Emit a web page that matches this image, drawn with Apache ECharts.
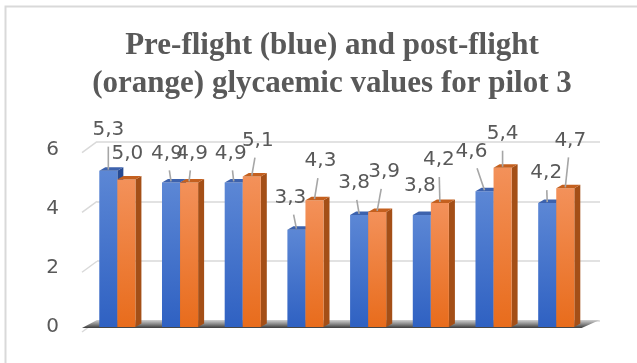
<!DOCTYPE html>
<html>
<head>
<meta charset="utf-8">
<script src="https://cdn.jsdelivr.net/npm/echarts@6/dist/echarts.min.js"></script>
<style>
  html, body { margin: 0; padding: 0; background: #ffffff; }
  #chart { width: 637px; height: 363px; }
</style>
</head>
<body>
<div id="chart"></div>
<script>
// Flights and glycaemic readings (mmol/L)
const flights = ['1', '2', '3', '4', '5', '6', '7', '8'];
const preFlight = [5.3, 4.9, 4.9, 3.3, 3.8, 3.8, 4.6, 4.2];
const postFlight = [5.0, 4.9, 5.1, 4.3, 3.9, 4.2, 5.4, 4.7];
const yTicks = [0, 2, 4, 6];

// Callout placement of each value label relative to its bar top: [dx, dy, leader line]
const preCallouts = [[0, -41, 1], [-4, -29, 1], [-3, -29, 1], [-6, -32, 1], [-5, -32, 1], [-2, -29, 0], [-13, -40, 1], [-1, -30, 1]];
const postCallouts = [[1, -26, 0], [3, -29, 1], [6, -36, 1], [6, -39, 1], [7, -40, 1], [-1, -43, 1], [0, -34, 1], [5, -48, 1]];

const DEPTH_X = 6;
const DEPTH_Y = 3.5;
const TEXT = '#595959';
const GRID_LINE = '#d9d9d9';
const LABEL_SIZE = 20;
const LABEL_FONT = LABEL_SIZE + 'px "DejaVu Sans"';

const blueStyle = { light: '#5c87d5', dark: '#2f61c2', side: '#264a92', cap: '#3d62ad' };
const orangeStyle = { light: '#f3915a', dark: '#e86c1c', side: '#a44f17', cap: '#c4601f' };

function fmt(v) { return v.toFixed(1).replace('.', ','); }

// Draws one 3D column (front, side, cap) plus its value callout.
function columnRenderer(side, colors, callouts) {
  return function (params, api) {
    const idx = api.value(0);
    const v = api.value(1);
    const basePt = api.coord([idx, 0]);
    const topPt = api.coord([idx, v]);
    const band = api.size([1, 0])[0];
    const w = band * 0.288;
    const x0 = side === 0 ? basePt[0] - w : basePt[0];
    const x1 = x0 + w;
    const base = basePt[1];
    const top = topPt[1];
    const cx = x0 + w / 2;
    const co = callouts[params.dataIndex];
    const lx = cx + co[0];
    const ly = top + co[1];

    const children = [
      {
        type: 'polygon',
        shape: { points: [[x1, top], [x1 + DEPTH_X, top - DEPTH_Y], [x1 + DEPTH_X, base - DEPTH_Y], [x1, base]] },
        style: { fill: colors.side }
      },
      {
        type: 'rect',
        shape: { x: x0, y: top, width: w, height: base - top },
        style: {
          fill: {
            type: 'linear', x: 0, y: 0, x2: 0, y2: 1,
            colorStops: [{ offset: 0, color: colors.light }, { offset: 1, color: colors.dark }]
          }
        }
      },
      {
        type: 'polygon',
        shape: { points: [[x0, top], [x1, top], [x1 + DEPTH_X, top - DEPTH_Y], [x0 + DEPTH_X, top - DEPTH_Y]] },
        style: { fill: colors.cap }
      }
    ];

    if (co[2]) {
      const dy = top - ly;
      const t = Math.min(1, 17 / dy);
      children.push({
        type: 'line',
        z2: 15,
        shape: { x1: lx + (cx - lx) * t, y1: ly + dy * t, x2: cx, y2: top - 1 },
        style: { stroke: '#a6a6a6', lineWidth: 1.6 }
      });
    }

    children.push({
      type: 'text',
      z2: 20,
      style: {
        x: lx, y: ly, text: fmt(v), fill: TEXT, font: LABEL_FONT,
        align: 'center', verticalAlign: 'middle'
      }
    });

    return { type: 'group', children: children };
  };
}

// Shaded floor under the columns
function floorRenderer(params, api) {
  const cs = params.coordSys;
  const b = cs.y + cs.height;
  const l = cs.x;
  const r = cs.x + cs.width;
  return {
    type: 'polygon',
    shape: { points: [[l - 4, b + 1], [r - 6, b + 1], [r + 12, b - 7], [l + 11, b - 7]] },
    style: {
      fill: {
        type: 'linear', x: 0, y: 0, x2: 0, y2: 1,
        colorStops: [
          { offset: 0, color: '#d0d0d0' },
          { offset: 0.5, color: '#8a8a8a' },
          { offset: 1, color: '#3c3c3c' }
        ]
      }
    }
  };
}

// Short diagonal connecting the front tick labels to the back-wall gridlines
function diagonalRenderer(params, api) {
  const p = api.coord([0, api.value(1)]);
  return {
    type: 'line',
    shape: { x1: p[0] - 15, y1: p[1] + 11, x2: p[0], y2: p[1] },
    style: { stroke: GRID_LINE, lineWidth: 1.5 }
  };
}

const chart = echarts.init(document.getElementById('chart'), null, { renderer: 'canvas' });

chart.setOption({
  backgroundColor: '#ffffff',
  animation: false,
  title: {
    text: 'Pre-flight (blue) and post-flight\n(orange) glycaemic values for pilot 3',
    left: 332,
    top: 27,
    padding: 0,
    textAlign: 'center',
    textStyle: {
      fontFamily: '"Liberation Serif", "Times New Roman", serif',
      fontWeight: 'bold',
      fontSize: 31,
      lineHeight: 38,
      color: TEXT
    }
  },
  graphic: [{
    type: 'rect',
    shape: { x: 5.5, y: 6.5, width: 700, height: 400 },
    style: { fill: null, stroke: GRID_LINE, lineWidth: 2 },
    silent: true,
    z: -10
  }],
  grid: [
    { left: 86, right: 49.4, top: 150, bottom: 36 },
    { left: 97, right: 37, top: 141.7, bottom: 42 }
  ],
  xAxis: [
    {
      gridIndex: 0, type: 'category', data: flights,
      axisLine: { show: false }, axisTick: { show: false }, axisLabel: { show: false }, splitLine: { show: false }
    },
    {
      gridIndex: 1, type: 'value', min: 0, max: 1, show: false
    }
  ],
  yAxis: [
    {
      gridIndex: 0, type: 'value', min: 0, max: 6, interval: 2,
      axisLine: { show: false }, axisTick: { show: false }, splitLine: { show: false },
      axisLabel: {
        color: TEXT, fontFamily: 'DejaVu Sans', fontSize: LABEL_SIZE, margin: 27,
        padding: [10, 0, 0, 0]
      }
    },
    {
      gridIndex: 1, type: 'value', min: 0, max: 6, interval: 2,
      axisLine: { show: false }, axisTick: { show: false }, axisLabel: { show: false },
      splitLine: { show: true, lineStyle: { color: GRID_LINE, width: 1.5 } }
    }
  ],
  series: [
    {
      type: 'custom', xAxisIndex: 1, yAxisIndex: 1,
      data: yTicks.map(function (v) { return [0, v]; }),
      renderItem: diagonalRenderer, silent: true, z: 1
    },
    {
      type: 'custom', xAxisIndex: 0, yAxisIndex: 0,
      data: [[0, 0]],
      renderItem: floorRenderer, silent: true, z: 1
    },
    {
      name: 'Pre-flight', type: 'custom', xAxisIndex: 0, yAxisIndex: 0,
      data: preFlight.map(function (v, i) { return [i, v]; }),
      renderItem: columnRenderer(0, blueStyle, preCallouts), z: 2
    },
    {
      name: 'Post-flight', type: 'custom', xAxisIndex: 0, yAxisIndex: 0,
      data: postFlight.map(function (v, i) { return [i, v]; }),
      renderItem: columnRenderer(1, orangeStyle, postCallouts), z: 2
    }
  ]
});
</script>
</body>
</html>
